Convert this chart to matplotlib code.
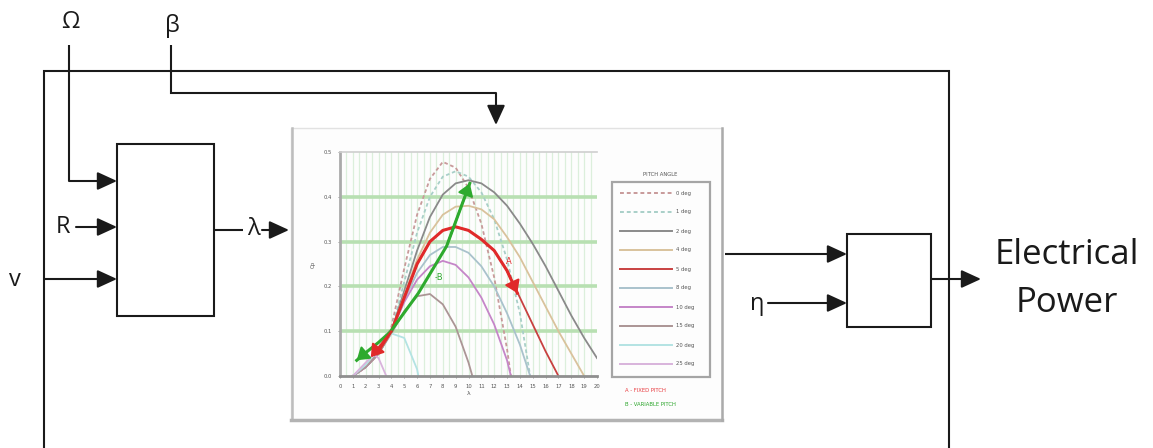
import matplotlib.pyplot as plt
from matplotlib.patches import Rectangle

# Cp - lambda curves for each pitch angle
pitch_labels = ['0 deg', '1 deg', '2 deg', '4 deg', '5 deg', '8 deg', '10 deg', '15 deg', '20 deg', '25 deg']

lam_0 = [1, 2, 3, 4, 5, 6, 7, 8, 9, 10, 11, 12, 13, 13.3]
cp_0 = [0.0, 0.02, 0.05, 0.11, 0.24, 0.36, 0.44, 0.478, 0.465, 0.42, 0.34, 0.22, 0.06, 0.0]

lam_1 = [1, 2, 3, 4, 5, 6, 7, 8, 9, 10, 11, 12, 13, 14, 14.8]
cp_1 = [0.0, 0.02, 0.05, 0.10, 0.21, 0.32, 0.40, 0.445, 0.457, 0.445, 0.41, 0.35, 0.26, 0.14, 0.0]

lam_2 = [1, 2, 3, 4, 5, 6, 7, 8, 9, 10, 11, 12, 13, 14, 15, 16, 17, 18, 19, 20]
cp_2 = [0.0, 0.02, 0.05, 0.10, 0.19, 0.28, 0.355, 0.405, 0.43, 0.437, 0.43, 0.41, 0.38, 0.34,
        0.295, 0.245, 0.19, 0.135, 0.085, 0.04]

lam_4 = [1, 2, 3, 4, 5, 6, 7, 8, 9, 10, 11, 12, 13, 14, 15, 16, 17, 18, 19]
cp_4 = [0.0, 0.02, 0.05, 0.10, 0.18, 0.26, 0.32, 0.36, 0.378, 0.38, 0.372, 0.35, 0.31, 0.265,
        0.21, 0.155, 0.10, 0.05, 0.0]

lam_5 = [1, 2, 3, 4, 5, 6, 7, 8, 9, 10, 11, 12, 13, 14, 15, 16, 17]
cp_5 = [0.0, 0.02, 0.05, 0.10, 0.175, 0.25, 0.30, 0.325, 0.333, 0.325, 0.305, 0.28, 0.235,
        0.175, 0.115, 0.055, 0.0]

lam_8 = [1, 2, 3, 4, 5, 6, 7, 8, 9, 10, 11, 12, 13, 14, 14.8]
cp_8 = [0.0, 0.02, 0.05, 0.10, 0.17, 0.23, 0.27, 0.288, 0.288, 0.275, 0.245, 0.20, 0.14, 0.07, 0.0]

lam_10 = [1, 2, 3, 4, 5, 6, 7, 8, 9, 10, 11, 12, 13, 13.3]
cp_10 = [0.0, 0.02, 0.05, 0.10, 0.165, 0.215, 0.245, 0.257, 0.248, 0.22, 0.175, 0.115, 0.035, 0.0]

lam_15 = [1, 2, 3, 4, 5, 6, 7, 8, 9, 10, 10.3]
cp_15 = [0.0, 0.02, 0.05, 0.095, 0.145, 0.178, 0.183, 0.16, 0.11, 0.03, 0.0]

lam_20 = [1, 2, 3, 4, 5, 6, 6.1]
cp_20 = [0.0, 0.025, 0.06, 0.095, 0.085, 0.015, 0.0]

lam_25 = [1, 2, 2.6, 3, 3.6]
cp_25 = [0.0, 0.03, 0.048, 0.04, 0.0]

# fixed pitch path (A) along the 5 deg curve, variable pitch path (B)
lam_a = [2.9, 4, 5, 6, 7, 8, 9, 10, 11, 12, 13, 13.8]
cp_a = [0.052, 0.10, 0.175, 0.25, 0.30, 0.325, 0.333, 0.325, 0.305, 0.28, 0.235, 0.185]
lam_b = [1.3, 2, 3, 3.9, 6.1, 8.3, 10.1]
cp_b = [0.035, 0.052, 0.075, 0.098, 0.185, 0.29, 0.43]

series = [
    (lam_0, cp_0, '#c89a9a', (0, (2, 1.5))),
    (lam_1, cp_1, '#a8cfc8', (0, (2, 1.5))),
    (lam_2, cp_2, '#8a8a8a', '-'),
    (lam_4, cp_4, '#d9c29c', '-'),
    (lam_5, cp_5, '#c84040', '-'),
    (lam_8, cp_8, '#a9c2cc', '-'),
    (lam_10, cp_10, '#c585c8', '-'),
    (lam_15, cp_15, '#ab9595', '-'),
    (lam_20, cp_20, '#b3e3e3', '-'),
    (lam_25, cp_25, '#d9b3dc', '-'),
]

FONT = ['Open Sans', 'DejaVu Sans']

fig = plt.figure(figsize=(11.53, 4.48), dpi=100)
ax = fig.add_axes([0, 0, 1, 1])
ax.set_xlim(0, 1153)
ax.set_ylim(448, 0)
ax.axis('off')


def line(xs, ys):
    ax.plot(xs, ys, color='#1a1a1a', lw=1.5, solid_capstyle='butt', solid_joinstyle='miter')


def arrow(x0, y0, x1, y1):
    ax.annotate('', xy=(x1, y1), xytext=(x0, y0),
                arrowprops=dict(arrowstyle='-|>,head_length=1.2,head_width=0.55',
                                mutation_scale=10, color='#1a1a1a', lw=1.5,
                                shrinkA=0, shrinkB=0))


def label(x, y, s, size=17):
    ax.text(x, y, s, fontsize=size, family=FONT, ha='center', va='center', color='#1a1a1a')


def chart_arrow(x0, y0, x1, y1, col):
    ax2.annotate('', xy=(x1, y1), xytext=(x0, y0),
                 arrowprops=dict(arrowstyle='-|>,head_length=0.9,head_width=0.6', mutation_scale=8,
                                 color=col, lw=1.5, shrinkA=0, shrinkB=0))


# outer frame
line([44, 44, 949, 949], [448, 71, 71, 448])

# omega input
label(70, 22, 'Ω')
line([69, 69], [45, 181])
arrow(69, 181, 117, 181)

# beta input
label(172, 26, 'β')
line([171, 171, 496], [45, 93, 93])
arrow(496, 93, 496, 125)

# lambda block
ax.add_patch(Rectangle((117, 144), 97, 172, fill=False, ec='#1a1a1a', lw=1.5))
label(63, 227, 'R')
arrow(76, 227, 117, 227)
label(15, 280, 'v')
arrow(44, 279, 117, 279)
line([214, 243], [230, 230])
label(253, 229, 'λ')
arrow(262, 230, 289, 230)

# chart panel
ax.add_patch(Rectangle((291, 128), 431, 292, fc='#fdfdfd', ec='#e2e2e2', lw=1))
ax.plot([292, 292], [128, 420], color='#bdbdbd', lw=1.8)
ax.plot([291, 722], [420, 420], color='#b3b3b3', lw=2.5)
ax.plot([722, 722], [128, 420], color='#ababab', lw=1.8)

# power block
line([725, 800], [254, 254])
arrow(800, 254, 847, 254)
ax.add_patch(Rectangle((847, 234), 84, 93, fill=False, ec='#1a1a1a', lw=1.5))
label(757, 304, 'η')
arrow(768, 303, 847, 303)
line([931, 950], [279, 279])
arrow(950, 279, 981, 279)
label(1067, 255, 'Electrical', size=25)
label(1067, 303, 'Power', size=25)

# legend of the embedded chart
ax.text(660, 174, 'PITCH ANGLE', fontsize=3.8, ha='center', va='center', color='#555555')
ax.add_patch(Rectangle((612, 182), 98, 195, fill=False, ec='#a5a5a5', lw=1.6))
for i, (lx, ly, col, ls) in enumerate(series):
    yy = 193 + i * 19
    ax.plot([620, 672], [yy, yy], color=col, ls=ls, lw=1.4)
    ax.text(676, yy, pitch_labels[i], fontsize=3.8, va='center', color='#555555')
ax.text(625, 390, 'A - FIXED PITCH', fontsize=3.8, va='center', color='#e8383c')
ax.text(625, 405, 'B - VARIABLE PITCH', fontsize=3.8, va='center', color='#2aa52a')

# embedded Cp chart
ax2 = fig.add_axes([340 / 1153, (448 - 376) / 448, 257 / 1153, 224 / 448])
ax2.set_facecolor('none')
ax2.set_xlim(0, 20)
ax2.set_ylim(0, 0.5)
for k in range(1, 40):
    ax2.axvline(k * 0.5, color='#dcefdc', lw=0.9, zorder=0)
for v in [0.1, 0.2, 0.3, 0.4]:
    ax2.axhline(v, color='#b8e0b2', lw=2.6, zorder=0)

for lx, ly, col, ls in series:
    ax2.plot(lx, ly, color=col, ls=ls, lw=1.3)

ax2.plot(lam_a, cp_a, color='#e02a2a', lw=2.2)
chart_arrow(lam_a[-2], cp_a[-2], lam_a[-1], cp_a[-1], '#e02a2a')
chart_arrow(lam_a[1], cp_a[1], lam_a[0] - 0.5, cp_a[0] - 0.01, '#e02a2a')
ax2.plot(lam_b, cp_b, color='#2eaa2e', lw=2.2)
chart_arrow(lam_b[-2], cp_b[-2], lam_b[-1], cp_b[-1], '#2eaa2e')
chart_arrow(lam_b[1], cp_b[1], lam_b[0], cp_b[0], '#2eaa2e')
ax2.text(13.1, 0.255, 'A', fontsize=6, color='#e02a2a', ha='center', va='center')
ax2.text(7.7, 0.22, '-B', fontsize=6, color='#2eaa2e', ha='center', va='center')

ax2.set_xticks(range(21))
ax2.set_xticklabels([str(i) for i in range(21)], fontsize=3.8, color='#555555')
ax2.set_yticks([0, 0.1, 0.2, 0.3, 0.4, 0.5])
ax2.set_yticklabels(['0.0', '0.1', '0.2', '0.3', '0.4', '0.5'], fontsize=3.8, color='#555555')
ax2.tick_params(length=1.5, width=0.6, color='#888888', pad=4)
ax2.set_xlabel('λ', fontsize=4.5, color='#555555', labelpad=2)
ax2.set_ylabel('Cp', fontsize=4, color='#555555', labelpad=6)
ax2.spines['right'].set_visible(False)
ax2.spines['top'].set_color('#cfcfcf')
ax2.spines['top'].set_linewidth(1.2)
ax2.spines['left'].set_color('#aaaaaa')
ax2.spines['left'].set_linewidth(2.0)
ax2.spines['bottom'].set_color('#8f8f8f')
ax2.spines['bottom'].set_linewidth(2.0)

fig.savefig('out.png', dpi=100)
